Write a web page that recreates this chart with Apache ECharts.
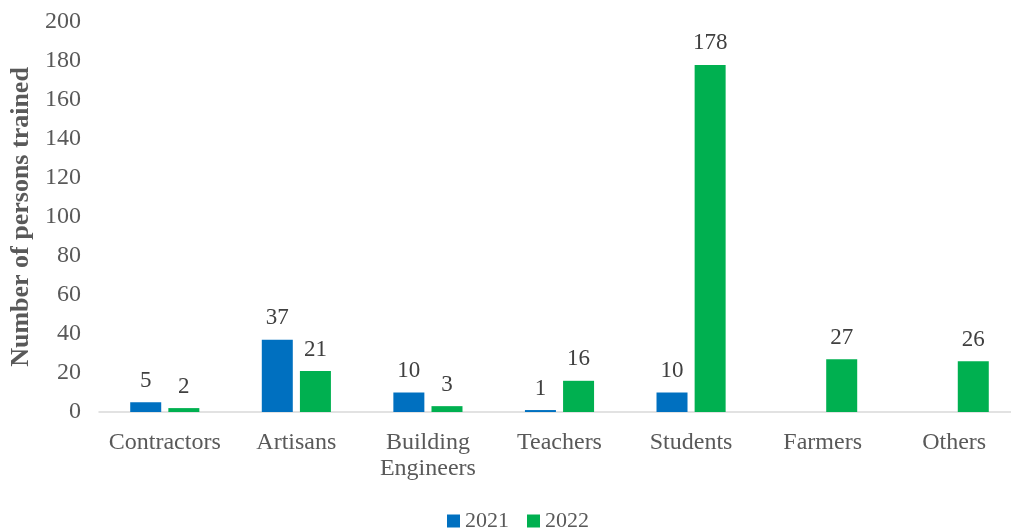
<!DOCTYPE html>
<html>
<head>
<meta charset="utf-8">
<style>
  html, body { margin: 0; padding: 0; background: #fff; overflow: hidden; width: 1011px; height: 528px; }
  /* canvas is a little wider than the window; the right edge is cut off */
  #chart { width: 1020px; height: 528px; }
</style>
<script src="https://cdn.jsdelivr.net/npm/echarts@6/dist/echarts.min.js"></script>
</head>
<body>
<div id="chart"></div>
<script>
// Persons trained by group, per year
const categories = ['Contractors', 'Artisans', 'Building\nEngineers', 'Teachers', 'Students', 'Farmers', 'Others'];
const values2021 = [5, 37, 10, 1, 10, null, null];
const values2022 = [2, 21, 3, 16, 178, 27, 26];
const yTicks = { min: 0, max: 200, interval: 20 };

const serif = '"Liberation Serif", "Times New Roman", serif';
const chart = echarts.init(document.getElementById('chart'));

const labelStyle = {
  show: true,
  position: 'top',
  distance: 10,
  fontFamily: serif,
  fontSize: 23,
  color: '#404040'
};

chart.setOption({
  animation: false,
  textStyle: { fontFamily: serif },
  grid: { left: 99, right: 0, top: 22, bottom: 116, containLabel: false },
  legend: {
    top: 505,
    left: 442,
    itemWidth: 13,
    itemHeight: 13,
    itemGap: 18,
    icon: 'rect',
    textStyle: { fontFamily: serif, fontSize: 22, color: '#595959' },
    data: ['2021', '2022']
  },
  xAxis: {
    type: 'category',
    data: categories,
    axisLine: { lineStyle: { color: '#d9d9d9', width: 1.5 } },
    axisTick: { show: false },
    axisLabel: {
      fontFamily: serif,
      fontSize: 24,
      color: '#595959',
      margin: 18,
      lineHeight: 26,
      interval: 0
    }
  },
  yAxis: {
    type: 'value',
    min: yTicks.min,
    max: yTicks.max,
    interval: yTicks.interval,
    name: 'Number of persons trained',
    nameLocation: 'middle',
    nameGap: 64,
    nameTextStyle: { fontFamily: serif, fontSize: 26, fontWeight: 'bold', color: '#595959' },
    axisLine: { show: false },
    axisTick: { show: false },
    splitLine: { show: false },
    axisLabel: { fontFamily: serif, fontSize: 24, color: '#595959', margin: 18 }
  },
  series: [
    {
      name: '2021',
      type: 'bar',
      data: values2021,
      barWidth: 31,
      barGap: '23%',
      itemStyle: { color: '#0070c0' },
      label: labelStyle
    },
    {
      name: '2022',
      type: 'bar',
      data: values2022,
      barWidth: 31,
      itemStyle: { color: '#00b050' },
      label: labelStyle
    }
  ]
});
</script>
</body>
</html>
